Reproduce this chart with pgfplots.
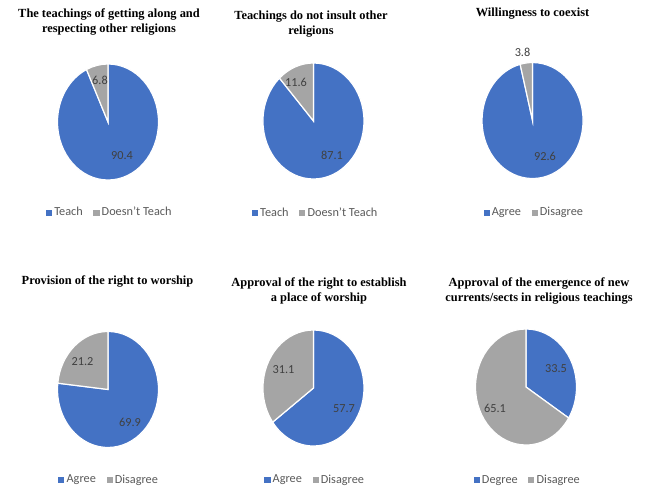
\documentclass[border=0pt]{standalone}
\usepackage{pgfplots}
\pgfplotsset{compat=1.18}
\usepackage{pgfplotstable}
\usepackage{fontspec}
\setmainfont{Carlito}
\newfontfamily\titlefont{Liberation Serif}

\definecolor{cblue}{HTML}{4472C4}
\definecolor{cgray}{HTML}{A5A5A5}
\definecolor{ctext}{HTML}{404040}
\definecolor{clegend}{HTML}{595959}

% one row per pie: first (blue) and second (gray) share
\pgfplotstableread{
id blue gray
0 90.4 6.8
1 87.1 11.6
2 92.6 3.8
3 69.9 21.2
4 57.7 31.1
5 33.5 65.1
}\piedata

% pie radii in px (picture is 646x489 px, 1px = 0.75pt)
\newcommand\rx{37.875pt}
\newcommand\ry{43.5pt}

\newcommand\prep[1]{%
  \pgfplotstablegetelem{#1}{blue}\of\piedata \let\vb\pgfplotsretval
  \pgfplotstablegetelem{#1}{gray}\of\piedata \let\vg\pgfplotsretval
  \pgfmathsetmacro\angb{90-3.6*(\vb/(\vb+\vg))*100}%
  \pgfmathsetmacro\angg{\angb+360}%
}
\newcommand\slices{%
  \filldraw[fill=cblue, draw=white, line width=0.9pt] (axis cs:0,0) -- (axis cs:0,58)
    arc[start angle=90, end angle=\angb, x radius=\rx, y radius=\ry] -- cycle;
  \filldraw[fill=cgray, draw=white, line width=0.9pt] (axis cs:0,0) -- (axis cs:0,58)
    arc[start angle=90, end angle=\angg, x radius=\rx, y radius=\ry] -- cycle;
}

\pgfplotsset{
  pie/.style={
    hide axis, clip=false,
    x=0.75pt, y=0.75pt,
    xmin=-105, xmax=105, ymin=-110, ymax=110,
    anchor=center,
    legend columns=2,
    legend style={draw=none, fill=none, font=\fontsize{9.2}{10}\selectfont,
      text=clegend, anchor=center,
      /tikz/every even column/.append style={column sep=6pt}},
    legend image code/.code={\fill[##1] (0pt,-1.9pt) rectangle (3.8pt,1.9pt);},
  },
}
\tikzset{
  lbl/.style={font=\fontsize{9.2}{10}\selectfont, text=ctext},
  ttl/.style={font=\titlefont\bfseries\fontsize{9.3}{11.25}\selectfont, align=center},
}

\begin{document}
\begin{tikzpicture}
\useasboundingbox (0,0) rectangle (484.5pt,-366.75pt);

% ---- row 1
\prep{0}
\begin{axis}[pie, at={(81pt,-91.5pt)},
  legend style={at={(axis description cs:0.51,0.088)}}]
  \slices
  \addlegendimage{cblue}\addlegendentry{Teach}
  \addlegendimage{cgray}\addlegendentry{Doesn't Teach}
  \node[lbl] at (axis cs:-8,42) {6.8};
  \node[lbl] at (axis cs:14,-34) {90.4};
  \node[ttl] at (axis cs:1,100) {The teachings of getting along and\\respecting other religions};
\end{axis}

\prep{1}
\begin{axis}[pie, at={(235.1pt,-90.75pt)},
  legend style={at={(axis description cs:0.512,0.083)}}]
  \slices
  \addlegendimage{cblue}\addlegendentry{Teach}
  \addlegendimage{cgray}\addlegendentry{Doesn't Teach}
  \node[lbl] at (axis cs:-17.5,39) {11.6};
  \node[lbl] at (axis cs:18.5,-34) {87.1};
  \node[ttl] at (axis cs:-2.5,97) {Teachings do not insult other\\religions};
\end{axis}

\prep{2}
\begin{axis}[pie, at={(399.4pt,-90.4pt)},
  legend style={at={(axis description cs:0.51,0.082)}}]
  \slices
  \addlegendimage{cblue}\addlegendentry{Agree}
  \addlegendimage{cgray}\addlegendentry{Disagree}
  \node[lbl] at (axis cs:-10,68) {3.8};
  \node[lbl] at (axis cs:12.5,-35.5) {92.6};
  \node[ttl] at (axis cs:0,107) {Willingness to coexist};
\end{axis}

% ---- row 2
\prep{3}
\begin{axis}[pie, at={(81pt,-292.1pt)},
  legend style={at={(axis description cs:0.507,0.089)}}]
  \slices
  \addlegendimage{cblue}\addlegendentry{Agree}
  \addlegendimage{cgray}\addlegendentry{Disagree}
  \node[lbl] at (axis cs:-25.5,28) {21.2};
  \node[lbl] at (axis cs:22,-33) {69.9};
  \node[ttl] at (axis cs:-0.5,108) {Provision of the right to worship};
\end{axis}

\prep{4}
\begin{axis}[pie, at={(235.1pt,-291pt)},
  legend style={at={(axis description cs:0.51,0.082)}}]
  \slices
  \addlegendimage{cblue}\addlegendentry{Agree}
  \addlegendimage{cgray}\addlegendentry{Disagree}
  \node[lbl] at (axis cs:-30,18) {31.1};
  \node[lbl] at (axis cs:30.5,-21) {57.7};
  \node[ttl] at (axis cs:5.5,97) {Approval of the right to establish\\a place of worship};
\end{axis}

\prep{5}
\begin{axis}[pie, at={(394.5pt,-290.25pt)},
  legend style={at={(axis description cs:0.51,0.077)}}]
  \slices
  \addlegendimage{cblue}\addlegendentry{Degree}
  \addlegendimage{cgray}\addlegendentry{Disagree}
  \node[lbl] at (axis cs:30,18.7) {33.5};
  \node[lbl] at (axis cs:-31,-21) {65.1};
  \node[ttl] at (axis cs:13,96.5) {Approval of the emergence of new\\currents/sects in religious teachings};
\end{axis}
\end{tikzpicture}
\end{document}
